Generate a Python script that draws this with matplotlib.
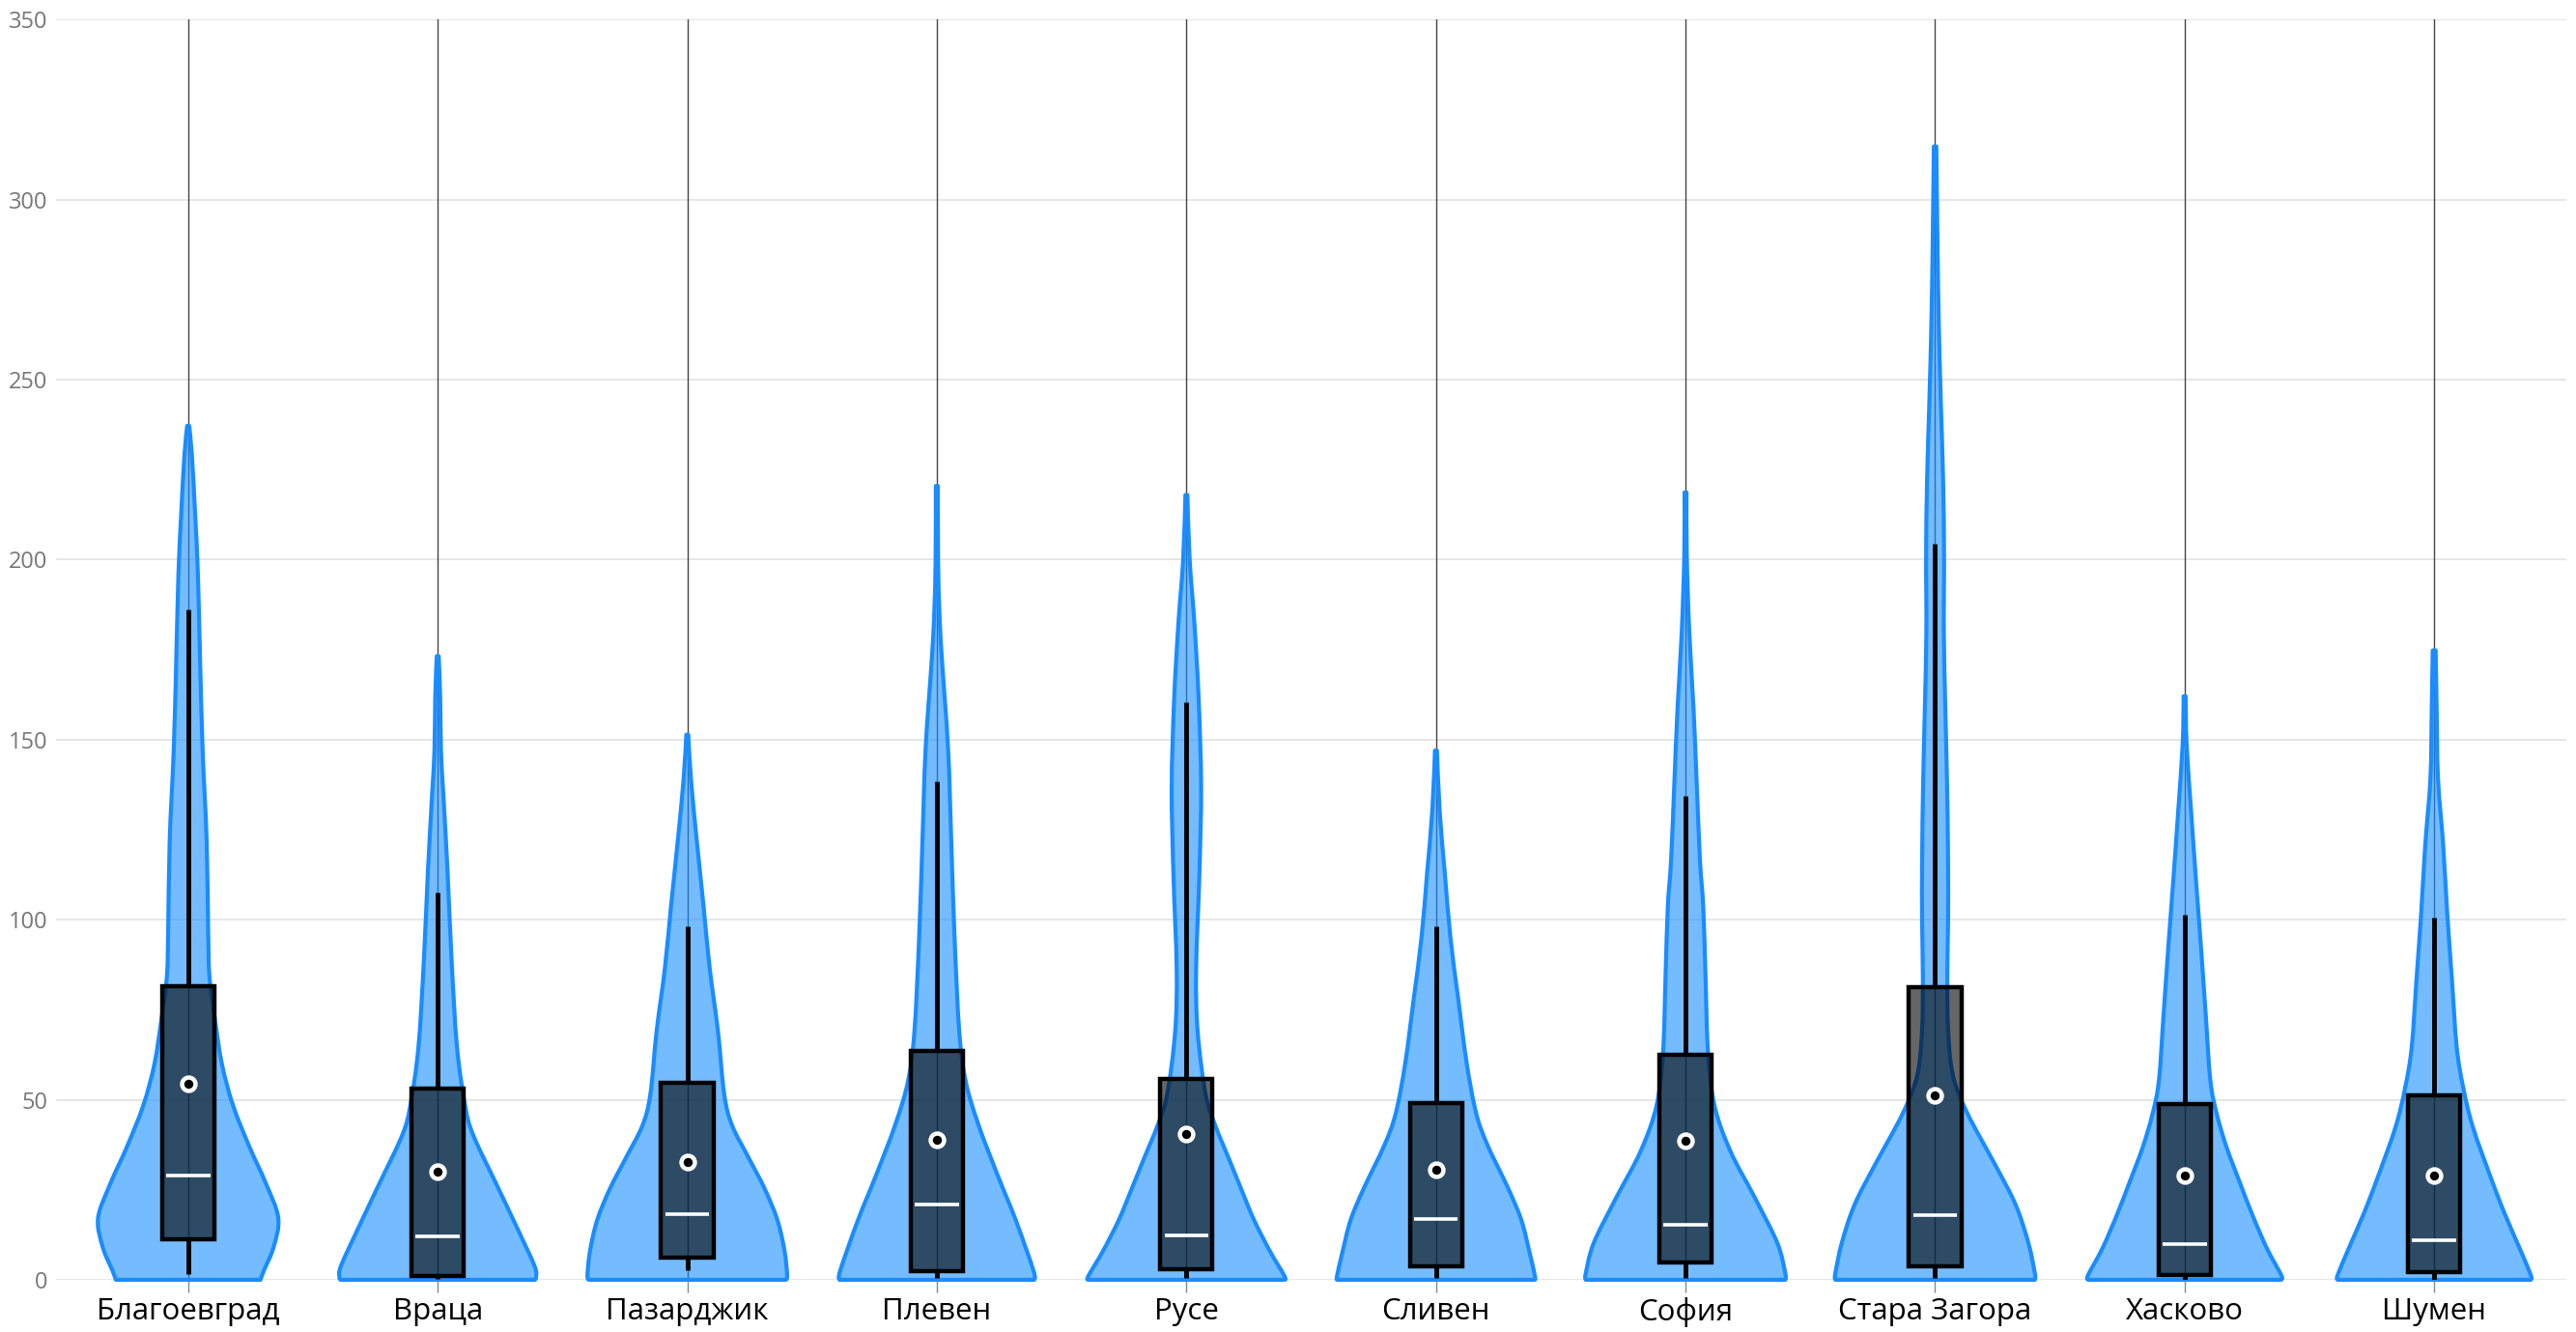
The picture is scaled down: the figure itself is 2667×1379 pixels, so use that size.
import matplotlib
matplotlib.use('Agg')
import matplotlib.pyplot as plt
from matplotlib.path import Path
from matplotlib.patches import PathPatch
import numpy as np

# Области
cities = ['Благоевград', 'Враца', 'Пазарджик', 'Плевен', 'Русе',
          'Сливен', 'София', 'Стара Загора', 'Хасково', 'Шумен']

# Профил на всяка цигулка: стойности по y и половин ширина (в части от категорията)
violin_y = [
    [0, 2.5, 9, 17.2, 27, 37, 48.4, 60, 73, 84.5, 97.7, 122, 147, 171.5, 196, 212.6, 229, 237.2],
    [0, 0.8, 4, 15.6, 27, 40.2, 48.4, 64.8, 89.5, 114, 135.4, 147, 161.7, 173.2],
    [0, 0.9, 7.9, 16.6, 25.3, 34, 42.8, 51.5, 69, 86.4, 103.9, 121.3, 138.8, 151.4],
    [0, 2.6, 16.6, 28.8, 42.8, 55, 68.8, 95, 121.3, 147.5, 173.7, 186, 200, 220.5],
    [0, 0.9, 7.9, 16.6, 25.3, 34, 42.8, 51.5, 69, 86.4, 112.6, 137, 161.5, 182.4, 200, 218],
    [0, 0.9, 7.9, 16.6, 25.3, 37.5, 46.3, 60.2, 77.6, 95, 112.6, 130, 147],
    [0, 1.7, 10.2, 22.9, 35.7, 48.4, 63.3, 84.5, 103.6, 116.4, 137.6, 158.8, 180, 201.3, 218.7],
    [0, 1.7, 10.2, 20.8, 31.4, 46.3, 56.9, 69.6, 84.5, 99.4, 116.4, 137.6, 158.8, 180, 201.3,
     222.5, 243.7, 265, 286, 314.8],
    [0, 1.3, 8.8, 18.1, 27.4, 36.8, 46, 55.4, 74.1, 92.8, 111.4, 130, 148.7, 162.1],
    [0, 1.3, 8.8, 18.1, 27.4, 42.4, 53.5, 64.7, 83.4, 102, 120.7, 139.4, 158, 174.8],
]
violin_w = [
    [0.29, 0.303, 0.342, 0.361, 0.31, 0.245, 0.18, 0.135, 0.106, 0.085, 0.080, 0.074, 0.058, 0.048,
     0.039, 0.028, 0.015, 0.004],
    [0.39, 0.394, 0.387, 0.31, 0.232, 0.142, 0.11, 0.077, 0.055, 0.039, 0.022, 0.013, 0.010, 0.004],
    [0.39, 0.40, 0.39, 0.361, 0.31, 0.245, 0.18, 0.148, 0.123, 0.09, 0.065, 0.039, 0.015, 0.004],
    [0.39, 0.387, 0.316, 0.245, 0.168, 0.116, 0.09, 0.071, 0.058, 0.045, 0.019, 0.010, 0.005, 0.004],
    [0.39, 0.394, 0.335, 0.271, 0.219, 0.168, 0.116, 0.077, 0.045, 0.039, 0.052, 0.059, 0.049, 0.032,
     0.013, 0.004],
    [0.395, 0.397, 0.374, 0.342, 0.29, 0.206, 0.161, 0.123, 0.09, 0.058, 0.036, 0.015, 0.004],
    [0.4, 0.4, 0.368, 0.277, 0.18, 0.116, 0.09, 0.08, 0.071, 0.058, 0.045, 0.032, 0.015, 0.005, 0.004],
    [0.4, 0.4, 0.374, 0.323, 0.245, 0.129, 0.071, 0.052, 0.049, 0.052, 0.052, 0.048, 0.041, 0.035,
     0.036, 0.032, 0.023, 0.015, 0.010, 0.005],
    [0.387, 0.387, 0.329, 0.271, 0.219, 0.168, 0.129, 0.103, 0.084, 0.065, 0.045, 0.026, 0.008, 0.004],
    [0.387, 0.387, 0.342, 0.284, 0.232, 0.155, 0.116, 0.09, 0.071, 0.052, 0.036, 0.015, 0.010, 0.006],
]

# Статистики за кутиите
q1 = [11.3, 1.1, 6.1, 2.3, 3.0, 3.8, 4.9, 3.8, 1.3, 2.2]
medians = [29, 12, 18.3, 21, 12.2, 16.9, 15.3, 18, 9.9, 11]
q3 = [81.6, 53, 54.6, 63.7, 55.9, 49.2, 62.6, 81.3, 48.9, 51.3]
whisk_lo = [1.6, 0.3, 2.6, 0.5, 0.5, 0.5, 0.5, 0.5, 0, 0]
whisk_hi = [186.3, 107.5, 98.3, 138.4, 160.3, 98.3, 134.4, 204.4, 101.5, 100.6]
means = [54.5, 30, 32.8, 38.9, 40.5, 30.6, 38.6, 51.2, 28.9, 28.9]


def smooth_side(pts):
    # Catmull-Rom -> Безие сегменти през дадените точки
    verts, codes = [], []
    n = len(pts)
    for k in range(n - 1):
        p0 = pts[max(k - 1, 0)]
        p1 = pts[k]
        p2 = pts[k + 1]
        p3 = pts[min(k + 2, n - 1)]
        c1 = p1 + (p2 - p0) / 6.0
        c2 = p2 - (p3 - p1) / 6.0
        verts += [c1, c2, p2]
        codes += [Path.CURVE4] * 3
    return verts, codes


def violin_path(c, y, w):
    left = np.column_stack([c - w, y])
    right = np.column_stack([c + w, y])[::-1]
    verts = [left[0]]
    codes = [Path.MOVETO]
    v, cd = smooth_side(left)
    verts += v
    codes += cd
    verts.append(right[0])
    codes.append(Path.LINETO)
    v, cd = smooth_side(right)
    verts += v
    codes += cd
    verts.append(left[0])
    codes.append(Path.CLOSEPOLY)
    return Path(np.array(verts), codes)


plt.rcParams['font.family'] = ['Open Sans', 'DejaVu Sans']

fig = plt.figure(figsize=(26.67, 13.79), dpi=100)
ax = fig.add_axes([0.0217, 0.0392, 0.9746, 0.946])

box_w = 0.21
for i in range(len(cities)):
    y = np.array(violin_y[i], dtype=float)
    w = np.array(violin_w[i], dtype=float)
    # вертикална линия през центъра
    ax.plot([i, i], [0, 350], color='#444444', lw=1.0, zorder=1)
    # цигулка
    p = violin_path(i, y, w)
    ax.add_patch(PathPatch(p, facecolor='#1890ff', alpha=0.6, edgecolor='none', zorder=2,
                           clip_on=False))
    ax.add_patch(PathPatch(p, facecolor='none', edgecolor='#1a8cff', lw=3.0, joinstyle='round',
                           zorder=3, clip_on=False))
    # мустаци
    ax.plot([i, i], [whisk_lo[i], q1[i]], color='black', lw=3.5, zorder=4, solid_capstyle='butt')
    ax.plot([i, i], [q3[i], whisk_hi[i]], color='black', lw=3.5, zorder=4, solid_capstyle='butt')
    # кутия
    ax.bar(i, q3[i] - q1[i], bottom=q1[i], width=box_w, color='black', alpha=0.6, zorder=4)
    ax.bar(i, q3[i] - q1[i], bottom=q1[i], width=box_w, facecolor='none', edgecolor='black',
           lw=3.2, zorder=5)
    # медиана
    ax.plot([i - box_w / 2 + 0.017, i + box_w / 2 - 0.017], [medians[i], medians[i]],
            color='white', lw=2.6, zorder=6, solid_capstyle='butt')
    # средна стойност
    ax.plot(i, means[i], 'o', markersize=10, markerfacecolor='black', markeredgecolor='white',
            markeredgewidth=3.2, zorder=7)

ax.set_xlim(-0.53, 9.53)
ax.set_ylim(0, 350)
ax.set_yticks(np.arange(0, 351, 50))
ax.yaxis.grid(True, color='#e6e6e6', lw=1.4)
ax.set_axisbelow(True)
ax.set_xticks(range(len(cities)))
ax.set_xticklabels(cities, fontsize=22.5, color='black')
ax.tick_params(axis='x', length=9, width=1, color='#888888', pad=4)
ax.tick_params(axis='y', length=0, labelsize=17, labelcolor='#777777', pad=6)
for s in ax.spines.values():
    s.set_visible(False)

plt.savefig('out.png', dpi=100)
